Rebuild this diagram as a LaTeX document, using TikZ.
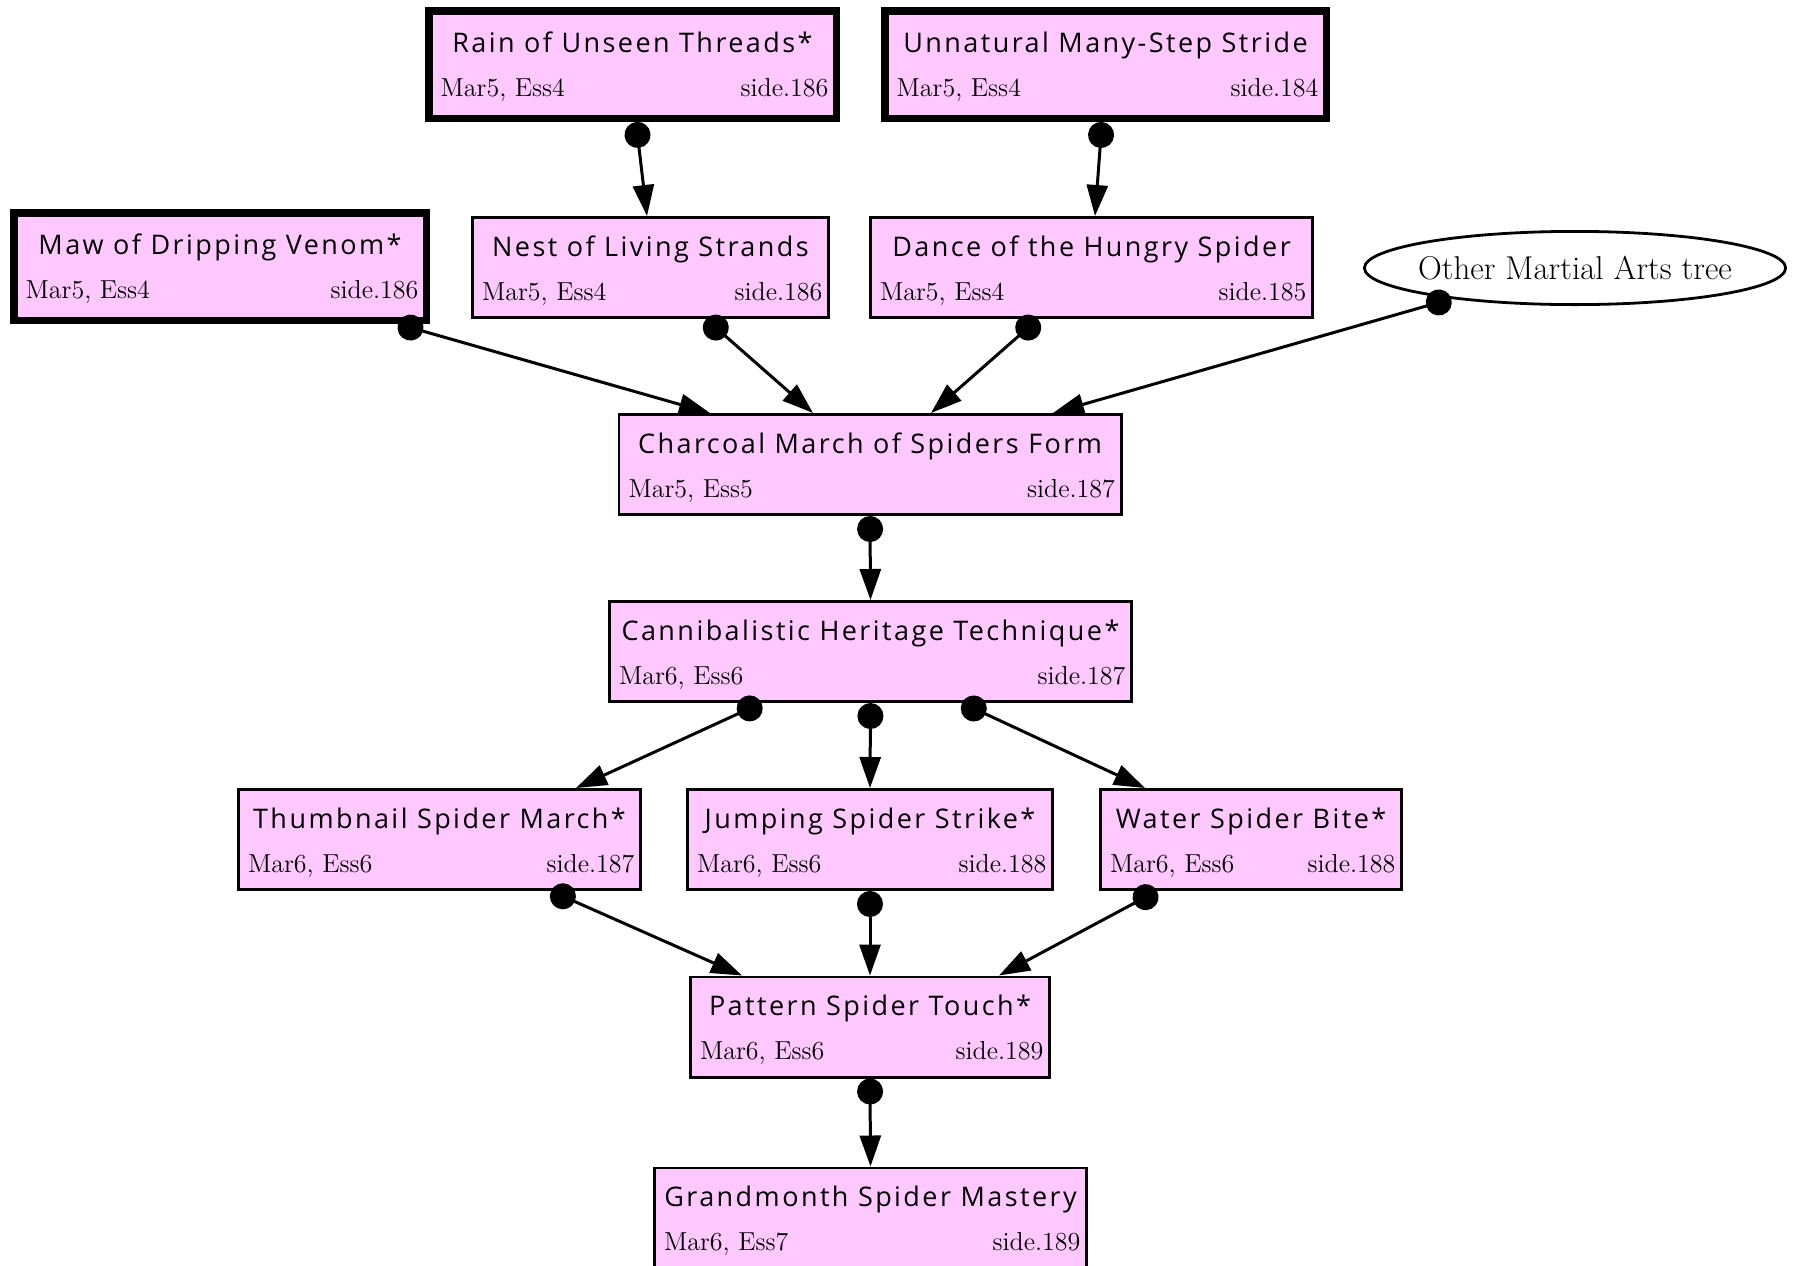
\documentclass[tikz,border=0pt]{standalone}
\usepackage{fontspec}
\newfontfamily\titlefont[LetterSpace=9]{Open Sans}
\usetikzlibrary{arrows.meta,shapes.geometric}
\definecolor{skillpink}{RGB}{255,200,255}

\tikzset{
  skillbox/.style={draw, fill=skillpink, rectangle, inner sep=0pt, line width=1.4pt},
  kind0/.style={skillbox},
  kind1/.style={skillbox, line width=3.75pt},
  titletext/.style={inner sep=0pt, anchor=base, font=\titlefont\fontsize{13.5}{15}\selectfont},
  subtext/.style={inner sep=0pt, font=\fontsize{13}{15}\selectfont},
  treenode/.style={draw, ellipse, line width=1.4pt, inner ysep=0pt, inner xsep=-8pt, font=\fontsize{16.5}{18}\selectfont},
  link/.style={line width=1.5pt, {Circle[length=13pt]}-{Triangle[length=15.5pt,width=10.5pt]}},
}

% #1 name, #2 border kind (1 = heavy), #3/#4 centre, #5/#6 outer size,
% #7 charm name, #8 prerequisites, #9 page reference
\newcommand\skill[9]{%
  \ifnum#2=1\relax
    \def\bxw{7.5}\def\bxdrop{22.6pt}\def\bxraise{12.6pt}\def\bxlin{7.6pt}\def\bxrin{5.6pt}%
  \else
    \def\bxw{2.8}\def\bxdrop{20.2pt}\def\bxraise{9.3pt}\def\bxlin{5.3pt}\def\bxrin{3.6pt}%
  \fi
  \node[kind#2, minimum width={(#5-\bxw)*0.5pt}, minimum height={(#6-\bxw)*0.5pt}] (#1) at (#3,#4) {};
  \node[titletext] (#1-title) at ([yshift=-\bxdrop]#1.north) {#7};
  \node[subtext, anchor=base west] (#1-stats) at ([xshift=\bxlin, yshift=\bxraise]#1.south west) {#8};
  \node[subtext, anchor=base east] (#1-page) at ([xshift=-\bxrin, yshift=\bxraise]#1.south east) {#9};
}

\begin{document}
\begin{tikzpicture}[x=0.5pt, y=-0.5pt]
  \fill[white] (0,0) rectangle (1795,1265);
  \useasboundingbox (0,0) rectangle (1795,1265);

  % charms
  \skill{rain}{1}{632.5}{64.5}{415}{115}{Rain of Unseen Threads*}{Mar5, Ess4}{side.186}
  \skill{stride}{1}{1105.5}{64.5}{449}{115}{Unnatural Many-Step Stride}{Mar5, Ess4}{side.184}
  \skill{maw}{1}{220}{266.5}{420}{115}{Maw of Dripping Venom*}{Mar5, Ess4}{side.186}
  \skill{nest}{0}{650.5}{267.5}{359}{103}{Nest of Living Strands}{Mar5, Ess4}{side.186}
  \skill{dance}{0}{1091.5}{267.5}{445}{103}{Dance of the Hungry Spider}{Mar5, Ess4}{side.185}
  \node[treenode, minimum width={(424-2.8)*0.5pt}, minimum height={(76-2.8)*0.5pt}] (other) at (1575,268) {Other Martial Arts tree};
  \skill{charcoal}{0}{870}{464.5}{505}{103}{Charcoal March of Spiders Form}{Mar5, Ess5}{side.187}
  \skill{heritage}{0}{870.5}{651.5}{525}{103}{Cannibalistic Heritage Technique*}{Mar6, Ess6}{side.187}
  \skill{thumb}{0}{439.5}{839.5}{405}{103}{Thumbnail Spider March*}{Mar6, Ess6}{side.187}
  \skill{jump}{0}{870}{839.5}{368}{103}{Jumping Spider Strike*}{Mar6, Ess6}{side.188}
  \skill{water}{0}{1251}{839.5}{304}{103}{Water Spider Bite*}{Mar6, Ess6}{side.188}
  \skill{pattern}{0}{870}{1027}{362}{103}{Pattern Spider Touch*}{Mar6, Ess6}{side.189}
  \skill{grand}{0}{870.5}{1218}{435}{103}{Grandmonth Spider Mastery}{Mar6, Ess7}{side.189}

  % prerequisites
  \draw[link] ([xshift=1.75pt]rain.south) -- ([xshift=-1.75pt]nest.north);
  \draw[link] ([xshift=-1.75pt]stride.south) -- ([xshift=1.75pt]dance.north);
  \draw[link] ([xshift=89pt]maw.south) -- ([xshift=-80pt]charcoal.north);
  \draw[link] ([xshift=27.75pt]nest.south) -- ([xshift=-28.5pt]charcoal.north);
  \draw[link] ([xshift=-26.75pt]dance.south) -- ([xshift=30.5pt]charcoal.north);
  \draw[link] (other.194) -- ([xshift=91.5pt]charcoal.north);
  \draw[link] (charcoal.south) -- (heritage.north);
  \draw[link] ([xshift=-54.5pt]heritage.south) -- ([xshift=68.25pt]thumb.north);
  \draw[link] (heritage.south) -- (jump.north);
  \draw[link] ([xshift=45.75pt]heritage.south) -- ([xshift=-53pt]water.north);
  \draw[link] ([xshift=55.75pt]thumb.south) -- ([xshift=-64pt]pattern.north);
  \draw[link] (jump.south) -- (pattern.north);
  \draw[link] ([xshift=-47pt]water.south) -- ([xshift=64.5pt]pattern.north);
  \draw[link] (pattern.south) -- (grand.north);
\end{tikzpicture}
\end{document}
